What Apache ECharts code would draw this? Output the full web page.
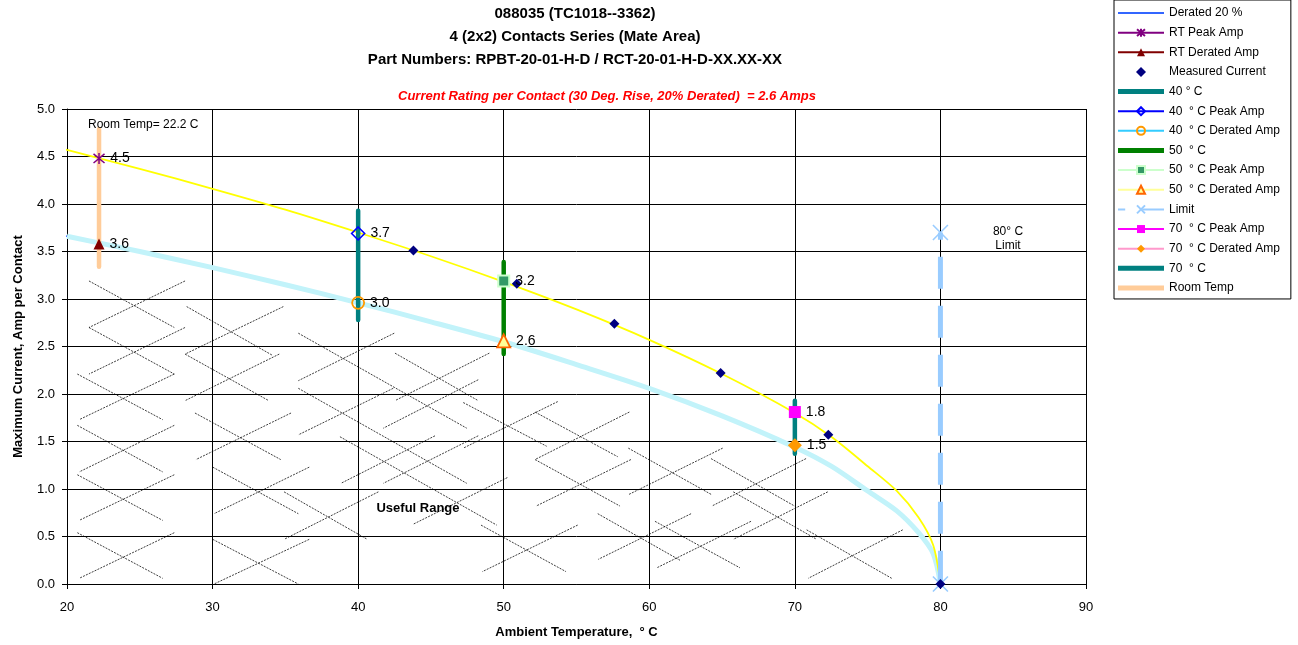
<!DOCTYPE html>
<html><head><meta charset="utf-8">
<script src="https://cdn.jsdelivr.net/npm/echarts/dist/echarts.min.js"></script>
<style>html,body{margin:0;padding:0;background:#fff}#c{width:1298px;height:645px}</style>
</head><body><div id="c"></div>
<script>
// ---------- data ----------
const xTicks = [20, 30, 40, 50, 60, 70, 80, 90];
const yTicks = [0, 0.5, 1, 1.5, 2, 2.5, 3, 3.5, 4, 4.5, 5];

// peak current curve (yellow)
const peakT = [19.5, 20, 25, 30, 35, 40, 45, 50, 55, 60, 65, 70, 72.5, 75, 77, 78.5, 79.5, 80];
const peakI = [4.59, 4.57, 4.37, 4.16, 3.94, 3.70, 3.45, 3.18, 2.89, 2.57, 2.21, 1.80, 1.55, 1.24, 0.98, 0.70, 0.41, 0.0];
// derated 20% curve
const deratedT = [19.5, 20, 25, 30, 35, 40, 45, 50, 55, 60, 65, 70, 72.5, 75, 77, 78.5, 79.5, 80];
const deratedI = [3.69, 3.66, 3.50, 3.33, 3.15, 2.96, 2.76, 2.55, 2.31, 2.06, 1.77, 1.44, 1.24, 0.98, 0.77, 0.54, 0.32, 0.0];
// measured current
const measuredT = [43.8, 50.9, 57.6, 64.9, 72.3, 80];
const measuredI = [3.51, 3.16, 2.74, 2.22, 1.57, 0.0];
// points
const rtPeak = [22.2, 4.48];
const rtDerated = [22.2, 3.58];
const peak40 = [40, 3.69];
const derated40 = [40, 2.96];
const peak50 = [50, 3.19];
const derated50 = [50, 2.56];
const peak70 = [70, 1.81];
const derated70 = [70, 1.46];
// vertical bars [x, yLow, yHigh]
const roomTempBar = [22.2, 3.34, 4.79];
const bar40 = [40, 2.78, 3.93];
const bar50 = [50, 2.42, 3.39];
const bar70 = [70, 1.37, 1.93];
const limitBar = [80, 0.0, 3.7];

// decorative hatch (dotted X pattern) [x1, y1, x2, y2]
const hatchSegments = [
 [21.51,3.19,27.37,2.70],[28.11,3.19,21.51,2.70],[21.51,2.70,27.37,2.21],[28.11,2.70,21.51,2.21],
 [20.71,2.21,26.57,1.73],[27.37,2.21,20.84,1.73],[20.71,1.67,26.57,1.18],[27.37,1.67,20.84,1.18],
 [20.71,1.15,26.57,0.67],[27.37,1.15,20.84,0.67],[20.71,0.54,26.57,0.06],[27.37,0.54,20.84,0.06],
 [28.22,2.92,34.08,2.41],[34.86,2.92,28.11,2.42],[28.11,2.42,33.86,1.93],[34.58,2.42,28.11,1.93],
 [28.79,1.80,34.68,1.31],[35.39,1.80,28.86,1.31],[30.01,1.23,35.89,0.74],[36.64,1.23,30.10,0.74],
 [30.01,0.47,35.89,0.00],[36.64,0.47,30.10,0.00],[34.91,0.97,40.63,0.47],[41.39,0.97,34.91,0.47],
 [35.89,2.64,47.46,1.64],[42.48,2.64,35.89,2.14],[42.53,2.43,48.25,1.93],[49.01,2.43,42.53,1.93],
 [35.89,2.06,47.46,1.06],[48.25,2.15,41.73,1.64],[42.41,2.06,35.89,1.57],[38.75,1.55,49.52,0.62],
 [45.28,1.56,38.82,1.06],[48.25,1.56,41.73,1.06],[50.25,1.12,43.79,0.63],
 [47.22,1.91,52.95,1.45],[53.71,1.92,47.22,1.43],[52.15,1.81,57.83,1.34],[58.63,1.81,52.15,1.31],
 [52.15,1.31,57.99,0.82],[58.74,1.31,52.22,0.82],[48.44,0.62,54.28,0.13],[55.08,0.62,48.53,0.13],
 [56.46,0.74,62.11,0.25],[62.87,0.74,56.50,0.26],[60.39,0.66,66.23,0.17],[66.99,0.66,60.51,0.17],
 [58.56,1.43,64.29,0.94],[65.04,1.43,58.56,0.94],[64.24,1.32,69.99,0.82],[70.77,1.32,64.29,0.82],
 [65.77,0.97,71.50,0.47],[72.26,0.97,65.77,0.47],[70.81,0.57,76.65,0.06],[77.41,0.57,70.92,0.06]
];

const legendNames = ['Derated 20 %', 'RT Peak Amp', 'RT Derated Amp', 'Measured Current', '40 ° C',
  '40  ° C Peak Amp', '40  ° C Derated Amp', '50  ° C', '50  ° C Peak Amp', '50  ° C Derated Amp',
  'Limit', '70  ° C Peak Amp', '70  ° C Derated Amp', '70  ° C', 'Room Temp'];

// ---------- chart ----------
const FONT = "'Liberation Sans', Arial, sans-serif";
const pts = (xs, ys) => xs.map((x, i) => [x, ys[i]]);
const bar = b => [[b[0], b[2]], [b[0], b[1]]];
const lbl = { show: true, position: 'right', distance: 5, color: '#000', fontSize: 14, fontFamily: FONT,
  formatter: p => p.value[1].toFixed(1) };
const ASTER = 'path://M0,0L10,10M10,0L0,10M5,-1L5,11';
const XMARK = 'path://M0,0L10,10M10,0L0,10';
const THICK_ICON = 'path://M0,0H46V5H0Z';
const THIN_ICON = 'path://M0,0H46V2H0Z';
const DIAMOND_ICON = 'path://M5,0L10,5L5,10L0,5Z';
const legendIcons = {
  'Derated 20 %': THIN_ICON, 'Measured Current': DIAMOND_ICON,
  '40 ° C': THICK_ICON, '50  ° C': THICK_ICON, '70  ° C': THICK_ICON, 'Room Temp': THICK_ICON
};

function vbar(name, b, color, width) {
  return { name, type: 'line', data: bar(b), symbol: 'none', z: 5,
    lineStyle: { color, width, cap: 'round' }, itemStyle: { color } };
}
function pointSeries(name, p, lineColor, symbol, size, itemStyle, z) {
  return { name, type: 'line', data: [p], symbol, symbolSize: size, showSymbol: true, z: z || 8,
    lineStyle: { color: lineColor, width: 1.5 }, itemStyle, label: lbl };
}

const chart = echarts.init(document.getElementById('c'), null, { renderer: 'canvas' });
chart.setOption({
  animation: false,
  backgroundColor: '#fff',
  grid: { left: 67, right: 212, top: 109, bottom: 61 },
  xAxis: {
    type: 'value', min: 20, max: 90, interval: 10,
    name: 'Ambient Temperature,  ° C', nameLocation: 'middle', nameGap: 42,
    nameTextStyle: { fontFamily: FONT, fontSize: 13, fontWeight: 'bold', color: '#000' },
    axisLine: { lineStyle: { color: '#000', width: 1 } },
    axisTick: { show: true, length: 5, lineStyle: { color: '#000' } },
    axisLabel: { margin: 17, fontFamily: FONT, fontSize: 13, color: '#000' },
    splitLine: { show: true, lineStyle: { color: '#000', width: 1 } }
  },
  yAxis: {
    type: 'value', min: 0, max: 5, interval: 0.5,
    name: 'Maximum Current, Amp per Contact', nameLocation: 'middle', nameGap: 42, nameRotate: 90,
    nameTextStyle: { fontFamily: FONT, fontSize: 13, fontWeight: 'bold', color: '#000' },
    axisLine: { show: true, lineStyle: { color: '#000', width: 1 } },
    axisTick: { show: true, length: 5, lineStyle: { color: '#000' } },
    axisLabel: { margin: 12, fontFamily: FONT, fontSize: 13, color: '#000', formatter: v => v.toFixed(1) },
    splitLine: { show: true, lineStyle: { color: '#000', width: 1 } }
  },
  legend: {
    orient: 'vertical', left: 1114, top: 0, itemWidth: 46, itemHeight: 10, itemGap: 7.64,
    padding: [7, 11, 5, 3], borderColor: '#000', borderWidth: 1, backgroundColor: '#fff',
    textStyle: { fontSize: 12, fontFamily: FONT, color: '#000', lineHeight: 12 },
    selectedMode: false,
    data: legendNames.map(n => legendIcons[n] ? { name: n, icon: legendIcons[n] } : { name: n })
  },
  graphic: [
    { type: 'text', style: { text: '088035 (TC1018--3362)', x: 575, y: 14, textAlign: 'center', textVerticalAlign: 'middle', font: "bold 15px 'Liberation Sans', Arial", fill: '#000' } },
    { type: 'text', style: { text: '4 (2x2) Contacts Series (Mate Area)', x: 575, y: 37, textAlign: 'center', textVerticalAlign: 'middle', font: "bold 15px 'Liberation Sans', Arial", fill: '#000' } },
    { type: 'text', style: { text: 'Part Numbers: RPBT-20-01-H-D / RCT-20-01-H-D-XX.XX-XX', x: 575, y: 60, textAlign: 'center', textVerticalAlign: 'middle', font: "bold 15px 'Liberation Sans', Arial", fill: '#000' } },
    { type: 'text', style: { text: 'Current Rating per Contact (30 Deg. Rise, 20% Derated)  = 2.6 Amps', x: 607, y: 96, textAlign: 'center', textVerticalAlign: 'middle', font: "italic bold 13px 'Liberation Sans', Arial", fill: '#FF0000' } },
    { type: 'text', z: 20, style: { text: 'Room Temp= 22.2 C', x: 88, y: 125, textAlign: 'left', textVerticalAlign: 'middle', font: "12px 'Liberation Sans', Arial", fill: '#000' } },
    { type: 'text', z: 20, style: { text: '80° C', x: 1008, y: 232, textAlign: 'center', textVerticalAlign: 'middle', font: "12px 'Liberation Sans', Arial", fill: '#000' } },
    { type: 'text', z: 20, style: { text: 'Limit', x: 1008, y: 246, textAlign: 'center', textVerticalAlign: 'middle', font: "12px 'Liberation Sans', Arial", fill: '#000' } },
    { type: 'text', z: 20, style: { text: 'Useful Range', x: 418, y: 508, textAlign: 'center', textVerticalAlign: 'middle', font: "bold 13px 'Liberation Sans', Arial", fill: '#000' } }
  ],
  series: [
    { name: 'hatch', type: 'lines', coordinateSystem: 'cartesian2d', silent: true, z: 1,
      data: hatchSegments.map(s => ({ coords: [[s[0], s[1]], [s[2], s[3]]] })),
      lineStyle: { color: '#000', width: 0.9, type: [2, 1.2], opacity: 0.85 } },
    { name: 'Derated 20 %', type: 'line', data: pts(deratedT, deratedI), symbol: 'none', smooth: 0.3, clip: false, z: 2,
      lineStyle: { color: '#3366FF', width: 1.5 }, itemStyle: { color: '#3366FF' } },
    { name: 'derated band', type: 'line', data: pts(deratedT.slice(1), deratedI.slice(1)), symbol: 'none', smooth: 0.3, z: 3,
      lineStyle: { color: '#C2F3FA', width: 5 } },
    { name: 'peak curve', type: 'line', data: pts(peakT, peakI), symbol: 'none', smooth: 0.3, clip: false, z: 4,
      lineStyle: { color: '#FFFF00', width: 1.8 } },
    vbar('Room Temp', roomTempBar, '#FFCC99', 4.5),
    vbar('40 ° C', bar40, '#008080', 4.5),
    vbar('50  ° C', bar50, '#008000', 4.5),
    vbar('70  ° C', bar70, '#008080', 4.5),
    { name: 'Limit', type: 'line', data: bar(limitBar), symbol: XMARK, symbolSize: 15, showSymbol: true, z: 6,
      lineStyle: { color: '#99CCFF', width: 5, type: [32, 17], dashOffset: 24.8 },
      itemStyle: { color: '#99CCFF', borderColor: '#99CCFF', borderWidth: 1.6 } },
    { name: 'Measured Current', type: 'scatter', data: pts(measuredT, measuredI), symbol: 'diamond', symbolSize: 10, z: 7,
      itemStyle: { color: '#000080', opacity: 1 } },
    pointSeries('RT Peak Amp', rtPeak, '#800080', ASTER, 11, { color: '#800080', borderColor: '#800080', borderWidth: 1.5 }),
    pointSeries('RT Derated Amp', rtDerated, '#800000', 'triangle', 11, { color: '#800000' }),
    pointSeries('40  ° C Peak Amp', peak40, '#0000FF', 'diamond', 13, { color: 'rgba(255,255,255,0)', borderColor: '#0000FF', borderWidth: 1.6 }),
    pointSeries('40  ° C Derated Amp', derated40, '#33CCFF', 'circle', 12, { color: 'rgba(255,255,255,0)', borderColor: '#FF9900', borderWidth: 1.8 }),
    pointSeries('50  ° C Peak Amp', peak50, '#CCFFCC', 'rect', 11, { color: '#339966', borderColor: '#CCFFCC', borderWidth: 2 }),
    pointSeries('50  ° C Derated Amp', derated50, '#FFFF99', 'triangle', 13, { color: '#FFFF99', borderColor: '#FF6600', borderWidth: 1.8 }),
    pointSeries('70  ° C Peak Amp', peak70, '#FF00FF', 'rect', 12, { color: '#FF00FF' }),
    pointSeries('70  ° C Derated Amp', derated70, '#FF99CC', 'diamond', 14, { color: '#FF9900' })
  ]
});
</script></body></html>
